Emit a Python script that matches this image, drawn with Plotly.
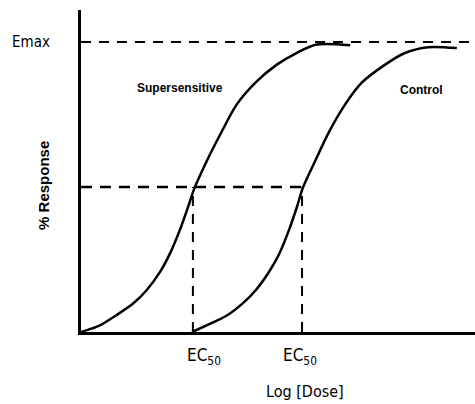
import plotly.graph_objects as go

# Data (x: log dose units 0-10, y: % response, Emax = 100)
super_x = [0.0, 0.48, 0.91, 1.33, 1.67, 2.01, 2.26, 2.51, 2.72, 2.88, 3.19, 3.53, 3.95, 4.46, 4.97, 5.47, 5.98, 6.83]
super_y = [0.0, 2.3, 5.9, 9.9, 14.5, 20.8, 27.1, 35.2, 43.2, 49.6, 58.9, 68.0, 78.4, 86.4, 92.2, 96.2, 99.1, 98.9]
control_x = [2.82, 3.27, 3.68, 4.09, 4.44, 4.77, 5.03, 5.28, 5.48, 5.63, 5.94, 6.28, 6.70, 7.12, 7.72, 8.22, 8.81, 9.54]
control_y = [0.0, 2.8, 5.5, 9.7, 14.5, 20.7, 26.9, 35.2, 43.1, 49.7, 58.9, 68.6, 78.4, 85.9, 92.2, 96.2, 98.2, 97.9]
emax = 100
half = 50
ec50_super = 2.84
ec50_control = 5.61
emax_line_end = 9.92

NARROW = "DejaVu Sans Condensed, Liberation Sans Narrow, Arial Narrow, Liberation Sans, Arial, sans-serif"
SANS = "Liberation Sans, Arial, sans-serif"

fig = go.Figure()
dash_line = dict(color="black", width=2, dash="10px,8px")
fig.add_trace(go.Scatter(x=[0, emax_line_end], y=[emax, emax], mode="lines", line=dash_line))
fig.add_trace(go.Scatter(x=[0, ec50_control], y=[half, half], mode="lines",
                         line=dict(color="black", width=2.5, dash="11px,8px")))
fig.add_trace(go.Scatter(x=[ec50_super, ec50_super], y=[0, half], mode="lines", line=dash_line))
fig.add_trace(go.Scatter(x=[ec50_control, ec50_control], y=[0, half], mode="lines", line=dash_line))
fig.add_trace(go.Scatter(x=super_x, y=super_y, mode="lines",
                         line=dict(color="black", width=2.5, shape="spline", smoothing=0.8)))
fig.add_trace(go.Scatter(x=control_x, y=control_y, mode="lines",
                         line=dict(color="black", width=2.5, shape="spline", smoothing=0.8)))

ann = [
    dict(text="Emax", xref="paper", x=-0.127, yref="y", y=emax, font=dict(family=NARROW, size=15)),
    dict(text="<b>Supersensitive</b>", x=2.51, y=84.1, font=dict(family=SANS, size=12)),
    dict(text="<b>Control</b>", x=8.65, y=83.4, font=dict(family=SANS, size=12)),
    dict(text="EC<sub>50</sub>", x=3.12, yref="paper", y=-0.075, font=dict(family=NARROW, size=17)),
    dict(text="EC<sub>50</sub>", x=5.56, yref="paper", y=-0.075, font=dict(family=NARROW, size=17)),
    dict(text="Log [Dose]", x=5.69, yref="paper", y=-0.186, font=dict(family=NARROW, size=16)),
    dict(text="<b>% Response</b>", xref="paper", x=-0.097, yref="paper", y=0.456, textangle=-90,
         font=dict(family=SANS, size=15)),
]
for a in ann:
    a.setdefault("xref", "x")
    a.setdefault("yref", "y")
    a.update(showarrow=False, xanchor="center", yanchor="middle")
    a["font"]["color"] = "black"

fig.update_layout(
    width=475, height=404,
    margin=dict(l=81, r=0, t=10, b=72),
    paper_bgcolor="white", plot_bgcolor="white",
    showlegend=False,
    annotations=ann,
    xaxis=dict(range=[0, 10], showgrid=False, zeroline=False, showticklabels=False,
               ticks="", showline=True, linecolor="black", linewidth=2.5),
    yaxis=dict(range=[0, 111.03], showgrid=False, zeroline=False, showticklabels=False,
               ticks="", showline=True, linecolor="black", linewidth=2.5),
)
fig.write_html("out.html", config={"displayModeBar": False},
               post_script="document.body.style.margin='0';document.body.style.padding='0';")
